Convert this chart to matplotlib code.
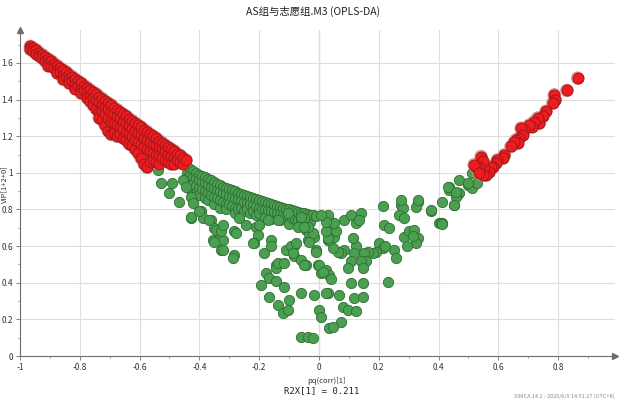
import matplotlib
matplotlib.use("Agg")
import matplotlib.pyplot as plt
from matplotlib.ticker import MultipleLocator

# ---- data: (pq(corr)[1], VIP[1+2+0]) per variable ----
# significant variables (VIP > 1), negative loading side
red_band = [
    (-0.965, 1.69), (-0.965, 1.675), (-0.955, 1.68), (-0.955, 1.665),
    (-0.945, 1.67), (-0.945, 1.65), (-0.935, 1.655), (-0.935, 1.64),
    (-0.925, 1.645), (-0.925, 1.625), (-0.915, 1.63), (-0.915, 1.61),
    (-0.905, 1.62), (-0.905, 1.60), (-0.905, 1.585), (-0.895, 1.61), (-0.895, 1.585),
    (-0.885, 1.595), (-0.885, 1.575), (-0.875, 1.585), (-0.875, 1.56), (-0.875, 1.545),
    (-0.865, 1.57), (-0.865, 1.55), (-0.855, 1.56), (-0.855, 1.535), (-0.855, 1.51),
    (-0.845, 1.55), (-0.845, 1.525), (-0.835, 1.535), (-0.835, 1.51), (-0.835, 1.49),
    (-0.825, 1.525), (-0.825, 1.50), (-0.815, 1.51), (-0.815, 1.485), (-0.815, 1.46),
    (-0.805, 1.50), (-0.805, 1.475), (-0.795, 1.49), (-0.795, 1.46), (-0.795, 1.435),
    (-0.785, 1.475), (-0.785, 1.45), (-0.775, 1.465), (-0.775, 1.44), (-0.775, 1.41),
    (-0.765, 1.45), (-0.765, 1.42), (-0.765, 1.39), (-0.755, 1.44), (-0.755, 1.41), (-0.755, 1.37),
    (-0.745, 1.43), (-0.745, 1.40), (-0.745, 1.35),
    (-0.735, 1.415), (-0.735, 1.385), (-0.735, 1.33), (-0.735, 1.30),
    (-0.725, 1.405), (-0.725, 1.37), (-0.725, 1.34), (-0.725, 1.29),
    (-0.715, 1.39), (-0.715, 1.36), (-0.715, 1.32), (-0.715, 1.26),
    (-0.705, 1.38), (-0.705, 1.35), (-0.705, 1.30), (-0.705, 1.23),
    (-0.695, 1.37), (-0.695, 1.33), (-0.695, 1.28), (-0.695, 1.21),
    (-0.685, 1.355), (-0.685, 1.32), (-0.685, 1.27), (-0.685, 1.22),
    (-0.675, 1.345), (-0.675, 1.31), (-0.675, 1.26), (-0.675, 1.20),
    (-0.665, 1.33), (-0.665, 1.30), (-0.665, 1.25), (-0.665, 1.21),
    (-0.655, 1.32), (-0.655, 1.28), (-0.655, 1.24), (-0.655, 1.19),
    (-0.645, 1.31), (-0.645, 1.27), (-0.645, 1.22), (-0.645, 1.18),
    (-0.635, 1.295), (-0.635, 1.26), (-0.635, 1.21), (-0.635, 1.16),
    (-0.625, 1.285), (-0.625, 1.245), (-0.625, 1.20), (-0.625, 1.15),
    (-0.615, 1.27), (-0.615, 1.23), (-0.615, 1.18), (-0.615, 1.13),
    (-0.605, 1.26), (-0.605, 1.22), (-0.605, 1.17), (-0.605, 1.11),
    (-0.595, 1.25), (-0.595, 1.21), (-0.595, 1.16), (-0.595, 1.08),
    (-0.585, 1.235), (-0.585, 1.19), (-0.585, 1.14), (-0.585, 1.05),
    (-0.575, 1.225), (-0.575, 1.18), (-0.575, 1.13), (-0.575, 1.03),
    (-0.565, 1.21), (-0.565, 1.17), (-0.565, 1.12), (-0.565, 1.06),
    (-0.555, 1.20), (-0.555, 1.16), (-0.555, 1.11), (-0.555, 1.07),
    (-0.545, 1.19), (-0.545, 1.15), (-0.545, 1.10), (-0.545, 1.06),
    (-0.535, 1.175), (-0.535, 1.14), (-0.535, 1.09), (-0.535, 1.05),
    (-0.525, 1.165), (-0.525, 1.13), (-0.525, 1.08),
    (-0.515, 1.15), (-0.515, 1.12), (-0.515, 1.07),
    (-0.505, 1.14), (-0.505, 1.10), (-0.505, 1.06),
    (-0.495, 1.13), (-0.495, 1.09), (-0.495, 1.05),
    (-0.485, 1.12), (-0.485, 1.08), (-0.485, 1.05),
    (-0.475, 1.105), (-0.475, 1.07), (-0.465, 1.095), (-0.465, 1.06),
    (-0.455, 1.08), (-0.455, 1.05), (-0.445, 1.07),
]

# significant variables (VIP > 1), positive loading side
red_right = [
    (0.865, 1.517), (0.829, 1.450), (0.787, 1.426), (0.790, 1.400), (0.782, 1.381),
    (0.759, 1.336), (0.748, 1.308), (0.737, 1.271), (0.731, 1.299), (0.720, 1.280),
    (0.714, 1.253), (0.703, 1.260), (0.686, 1.235), (0.676, 1.244), (0.681, 1.208),
    (0.670, 1.190), (0.659, 1.180), (0.664, 1.162), (0.653, 1.166), (0.642, 1.144),
    (0.620, 1.098), (0.614, 1.080), (0.597, 1.071), (0.592, 1.053), (0.581, 1.034),
    (0.575, 1.034), (0.570, 1.007), (0.559, 0.989), (0.553, 1.025), (0.547, 0.989),
    (0.542, 1.089), (0.547, 1.062), (0.536, 1.034), (0.525, 1.034), (0.519, 1.044),
    (0.536, 0.998),
]

# remaining variables (VIP <= 1): dense upper arm
green_band = [
    (-0.44, 1.03), (-0.44, 1.00), (-0.44, 0.97),
    (-0.43, 1.02), (-0.43, 0.99), (-0.43, 0.95), (-0.43, 0.91),
    (-0.42, 1.01), (-0.42, 0.98), (-0.42, 0.94),
    (-0.41, 1.00), (-0.41, 0.97), (-0.41, 0.93), (-0.41, 0.89),
    (-0.40, 0.99), (-0.40, 0.96), (-0.40, 0.92), (-0.40, 0.88),
    (-0.39, 0.985), (-0.39, 0.95), (-0.39, 0.91),
    (-0.38, 0.975), (-0.38, 0.945), (-0.38, 0.90), (-0.38, 0.86),
    (-0.37, 0.965), (-0.37, 0.935), (-0.37, 0.89), (-0.37, 0.85),
    (-0.36, 0.96), (-0.36, 0.925), (-0.36, 0.88),
    (-0.35, 0.95), (-0.35, 0.915), (-0.35, 0.87), (-0.35, 0.83),
    (-0.34, 0.94), (-0.34, 0.905), (-0.34, 0.86),
    (-0.33, 0.935), (-0.33, 0.90), (-0.33, 0.85), (-0.33, 0.81),
    (-0.32, 0.925), (-0.32, 0.89), (-0.32, 0.84),
    (-0.31, 0.92), (-0.31, 0.885), (-0.31, 0.83), (-0.31, 0.80),
    (-0.30, 0.91), (-0.30, 0.875), (-0.30, 0.83),
    (-0.29, 0.905), (-0.29, 0.87), (-0.29, 0.82),
    (-0.28, 0.90), (-0.28, 0.86), (-0.28, 0.81), (-0.28, 0.78),
    (-0.27, 0.89), (-0.27, 0.855), (-0.27, 0.80),
    (-0.26, 0.885), (-0.26, 0.85), (-0.26, 0.81),
    (-0.25, 0.88), (-0.25, 0.84), (-0.25, 0.79),
    (-0.24, 0.875), (-0.24, 0.835), (-0.24, 0.80),
    (-0.23, 0.87), (-0.23, 0.83), (-0.23, 0.78),
    (-0.22, 0.86), (-0.22, 0.825), (-0.22, 0.79),
    (-0.21, 0.855), (-0.21, 0.82), (-0.21, 0.77),
    (-0.20, 0.85), (-0.20, 0.81), (-0.20, 0.78),
    (-0.19, 0.845), (-0.19, 0.805), (-0.18, 0.84), (-0.18, 0.80), (-0.18, 0.76),
    (-0.17, 0.835), (-0.17, 0.795), (-0.16, 0.83), (-0.16, 0.79), (-0.16, 0.75),
    (-0.15, 0.825), (-0.15, 0.785), (-0.14, 0.82), (-0.14, 0.78),
    (-0.13, 0.815), (-0.13, 0.775), (-0.13, 0.74), (-0.12, 0.81), (-0.12, 0.77),
    (-0.11, 0.805), (-0.11, 0.765), (-0.10, 0.80), (-0.10, 0.76), (-0.10, 0.72),
    (-0.09, 0.795), (-0.09, 0.755), (-0.08, 0.79), (-0.08, 0.75),
    (-0.07, 0.785), (-0.07, 0.745), (-0.06, 0.78), (-0.06, 0.74),
    (-0.05, 0.78), (-0.05, 0.73), (-0.04, 0.775), (-0.03, 0.77), (-0.03, 0.73),
    (-0.02, 0.77), (-0.01, 0.765),
]

# remaining variables (VIP <= 1): scattered points
green_scatter = [
    # below the negative arm
    (-0.539, 1.016), (-0.528, 0.943), (-0.501, 0.889), (-0.467, 0.843), (-0.490, 0.943),
    (-0.456, 0.962), (-0.445, 0.925), (-0.428, 0.870), (-0.423, 0.834), (-0.428, 0.752),
    (-0.395, 0.790), (-0.389, 0.752), (-0.361, 0.743), (-0.350, 0.698), (-0.356, 0.634),
    (-0.328, 0.579), (-0.283, 0.552), (-0.333, 0.670), (-0.322, 0.634), (-0.283, 0.680),
    (-0.267, 0.752), (-0.244, 0.716), (-0.211, 0.707), (-0.205, 0.661), (-0.216, 0.616),
    (-0.183, 0.561), (-0.161, 0.634), (-0.172, 0.743), (-0.138, 0.743), (-0.105, 0.779),
    (-0.110, 0.579), (-0.083, 0.598), (-0.049, 0.752), (-0.043, 0.689), (-0.038, 0.634),
    (-0.071, 0.707), (-0.083, 0.545), (-0.144, 0.497), (-0.060, 0.525),
    (-0.428, 0.761), (-0.400, 0.790), (-0.367, 0.743), (-0.344, 0.689), (-0.328, 0.680),
    (-0.322, 0.716), (-0.350, 0.625), (-0.322, 0.579), (-0.289, 0.534), (-0.278, 0.670),
    (-0.222, 0.616), (-0.200, 0.716), (-0.177, 0.452), (-0.194, 0.388), (-0.166, 0.425),
    (-0.166, 0.324), (-0.144, 0.479), (-0.144, 0.407), (-0.161, 0.598), (-0.138, 0.506),
    (-0.116, 0.506), (-0.116, 0.379), (-0.138, 0.279), (-0.122, 0.233), (-0.105, 0.251),
    (-0.099, 0.306), (-0.094, 0.598), (-0.077, 0.616), (-0.088, 0.561), (-0.043, 0.497),
    (-0.060, 0.342), (-0.060, 0.105), (-0.038, 0.105), (-0.021, 0.096),
    (-0.016, 0.333), (-0.010, 0.579), (-0.004, 0.497), (0.001, 0.251), (0.007, 0.215),
    (0.029, 0.342), (0.034, 0.151), (-0.032, 0.670), (-0.016, 0.652), (0.029, 0.634),
    (0.023, 0.470), (0.034, 0.443), (0.007, 0.452), (-0.049, 0.497), (-0.032, 0.625),
    (-0.021, 0.670), (-0.038, 0.707), (-0.049, 0.707), (-0.060, 0.761),
    # around and right of zero
    (0.213, 0.821), (0.274, 0.825), (0.280, 0.807), (0.269, 0.770), (0.285, 0.752),
    (0.330, 0.843), (0.324, 0.816), (0.375, 0.790), (0.413, 0.843), (0.402, 0.725),
    (0.410, 0.725), (0.453, 0.825), (0.463, 0.880), (0.436, 0.907),
    (0.218, 0.716), (0.235, 0.698), (0.285, 0.652), (0.302, 0.680), (0.319, 0.689),
    (0.330, 0.644), (0.324, 0.616), (0.313, 0.655), (0.296, 0.598), (0.252, 0.579),
    (0.257, 0.534), (0.202, 0.616), (0.213, 0.589), (0.220, 0.600), (0.191, 0.570),
    (0.179, 0.561), (0.163, 0.570), (0.152, 0.561), (0.157, 0.516), (0.140, 0.516),
    (0.146, 0.479), (0.124, 0.598), (0.113, 0.644), (0.118, 0.561), (0.107, 0.516),
    (0.096, 0.479), (0.085, 0.579), (0.074, 0.561), (0.062, 0.570), (0.046, 0.589),
    (0.034, 0.634), (0.051, 0.652), (0.046, 0.689), (0.057, 0.680), (0.030, 0.645),
    (0.023, 0.680), (0.040, 0.734), (0.051, 0.725), (0.029, 0.770), (0.023, 0.734),
    (0.007, 0.770), (0.085, 0.743), (0.107, 0.770), (0.124, 0.725), (0.140, 0.779),
    (0.135, 0.743), (0.107, 0.397), (0.146, 0.397), (0.230, 0.402), (0.068, 0.333),
    (0.118, 0.315), (0.146, 0.324), (0.079, 0.270), (0.096, 0.251), (0.124, 0.243),
    (0.074, 0.188), (0.046, 0.160), (0.023, 0.342), (0.001, 0.497), (0.012, 0.460),
    (0.040, 0.420), (-0.010, 0.570),
    # lower part of the positive arm
    (0.513, 0.998), (0.469, 0.962), (0.436, 0.925), (0.497, 0.934), (0.513, 0.916),
    (0.530, 0.943), (0.469, 0.889), (0.458, 0.870), (0.453, 0.825), (0.375, 0.798),
    (0.408, 0.725), (0.413, 0.721), (0.274, 0.852), (0.330, 0.852), (0.430, 0.925),
    (0.458, 0.898), (0.497, 0.943),
]

red_pts = red_band + red_right
green_pts = green_band + green_scatter
red_x = [p[0] for p in red_pts]
red_y = [p[1] for p in red_pts]
green_x = [p[0] for p in green_pts]
green_y = [p[1] for p in green_pts]

title = "AS组与志愿组.M3 (OPLS-DA)"
x_label = "pq(corr)[1]"
r2x_label = "R2X[1] = 0.211"
y_label = "VIP[1+2+0]"
footer = "SIMCA 14.1 - 2020/6/9 14:51:27 (UTC+8)"

plt.rcParams["font.family"] = ["Noto Sans CJK SC", "DejaVu Sans"]

W, H = 627, 407
fig = plt.figure(figsize=(W / 100, H / 100), dpi=100)
ax = fig.add_axes([20 / W, (H - 356) / H, (615 - 20) / W, (356 - 30) / H])
ax.set_xlim(-1.0, 0.99)
ax.set_ylim(0.0, 1.78)

# grid
ax.xaxis.set_major_locator(MultipleLocator(0.2))
ax.xaxis.set_minor_locator(MultipleLocator(0.1))
ax.yaxis.set_major_locator(MultipleLocator(0.2))
ax.yaxis.set_minor_locator(MultipleLocator(0.1))
ax.grid(True, which="major", color="#dedede", linewidth=0.8, zorder=0)
ax.axvline(0.0, color="#8c8c8c", linewidth=0.8, zorder=0.5)

# points
ax.scatter(green_x, green_y, s=55, c="#4b9f50", edgecolors="#2e6e33",
           linewidths=0.6, zorder=2)
ax.scatter(red_x, red_y, s=95, c="#d99a97", edgecolors="none", zorder=3)
ax.scatter(red_x, red_y, s=62, c="#ec1c1f", edgecolors="#a3161a",
           linewidths=0.7, zorder=4)

# axes with arrows
for side in ("top", "right"):
    ax.spines[side].set_visible(False)
for side in ("left", "bottom"):
    ax.spines[side].set_color("#6e6e6e")
    ax.spines[side].set_linewidth(0.8)
ax.plot(1, 0, ">", transform=ax.transAxes, color="#6e6e6e", ms=4, clip_on=False)
ax.plot(0, 1, "^", transform=ax.transAxes, color="#6e6e6e", ms=4, clip_on=False)

ax.tick_params(which="both", direction="out", colors="#6e6e6e",
               labelcolor="#333333", labelsize=6, pad=2)
ax.tick_params(which="major", length=3, width=0.6)
ax.tick_params(which="minor", length=1.5, width=0.5)

def fmt(v):
    s = f"{v:.1f}".rstrip("0").rstrip(".")
    return "0" if s in ("-0", "0") else s

ax.set_xticks([-1.0, -0.8, -0.6, -0.4, -0.2, 0.0, 0.2, 0.4, 0.6, 0.8])
ax.set_xticklabels([fmt(v) for v in ax.get_xticks()])
ax.set_yticks([0.0, 0.2, 0.4, 0.6, 0.8, 1.0, 1.2, 1.4, 1.6])
ax.set_yticklabels([fmt(v) for v in ax.get_yticks()])

# texts
fig.text(313 / W, 1 - 11 / H, title, ha="center", va="center", fontsize=7.5,
         color="#222222")
fig.text(326 / W, 1 - 381 / H, x_label, ha="center", va="center", fontsize=5.5,
         color="#333333")
fig.text(322 / W, 1 - 391 / H, r2x_label, ha="center", va="center", fontsize=6.5,
         color="#222222", family=["DejaVu Sans Mono"])
fig.text(4 / W, 1 - 184 / H, y_label, ha="center", va="center", fontsize=5.5,
         rotation=90, color="#333333")
fig.text(614 / W, 1 - 396 / H, footer, ha="right", va="center", fontsize=4,
         color="#8a8a8a")

fig.savefig("out.png", dpi=100)
